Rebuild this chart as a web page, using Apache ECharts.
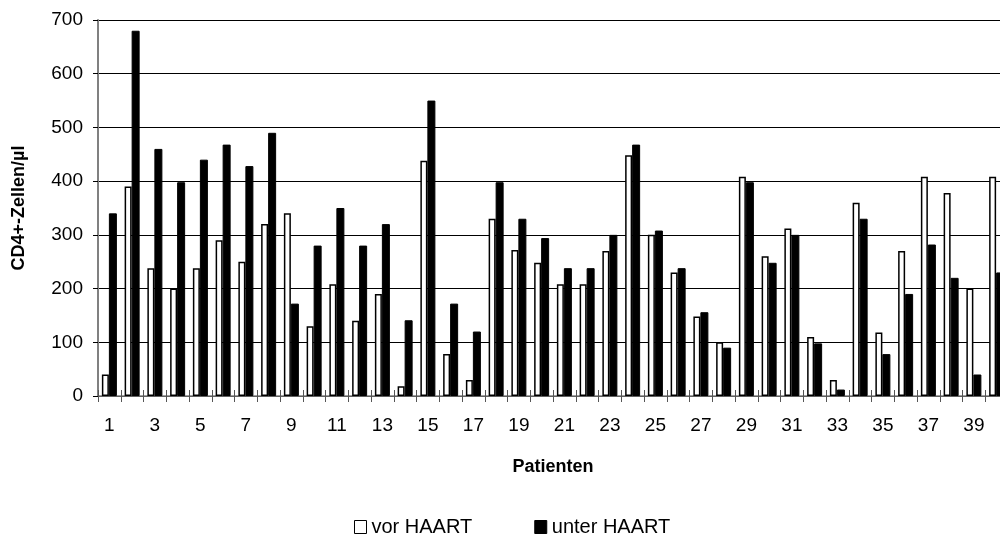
<!DOCTYPE html>
<html>
<head>
<meta charset="utf-8">
<script src="https://cdn.jsdelivr.net/npm/echarts@6/dist/echarts.min.js"></script>
<style>
html, body { margin: 0; padding: 0; width: 1000px; height: 541px; overflow: hidden; background: #fff; }
#chart { width: 1010px; height: 541px; }
</style>
</head>
<body>
<div id="chart"></div>
<script>
// Patient numbers
var categories = ['1','2','3','4','5','6','7','8','9','10','11','12','13','14','15','16','17','18','19','20',
                  '21','22','23','24','25','26','27','28','29','30','31','32','33','34','35','36','37','38','39','40'];
// CD4+ cells/µl before HAART
var vorHAART = [40,390,238,200,238,290,250,320,340,130,208,140,190,18,438,78,30,330,272,248,
                208,208,270,448,300,230,148,100,408,260,312,110,30,360,118,270,408,378,200,408];
// CD4+ cells/µl under HAART
var unterHAART = [340,680,460,398,440,468,428,490,172,280,350,280,320,141,550,172,120,398,330,294,
                  238,238,300,468,308,238,156,90,398,248,300,98,12,330,78,190,282,220,40,230];
var yMin = 0, yMax = 700, yStep = 100;

var font = 'Liberation Sans, Arial, sans-serif';
var chart = echarts.init(document.getElementById('chart'), null, { renderer: 'canvas' });
chart.setOption({
  animation: false,
  backgroundColor: '#fff',
  textStyle: { fontFamily: font, color: '#000' },
  grid: { left: 98, top: 20, width: 910, height: 376, containLabel: false },
  legend: {
    left: 349, top: 512,
    itemWidth: 12, itemHeight: 13, itemGap: 62,
    icon: 'rect',
    textStyle: { fontFamily: font, fontSize: 20, color: '#000' },
    data: [
      { name: 'vor HAART', itemStyle: { color: '#fff', borderColor: '#000', borderWidth: 1 } },
      { name: 'unter HAART', itemStyle: { color: '#000', borderColor: '#000', borderWidth: 1 } }
    ]
  },
  xAxis: [{
    type: 'category',
    data: categories,
    position: 'bottom',
    name: 'Patienten',
    nameLocation: 'middle',
    nameGap: 62,
    nameTextStyle: { fontFamily: font, fontSize: 18, fontWeight: 'bold', color: '#000' },
    axisLine: { show: true, lineStyle: { color: '#808080', width: 1.5 } },
    axisTick: { show: true, interval: 0, length: 6, lineStyle: { color: '#555', width: 1 } },
    axisLabel: { interval: 1, margin: 20, fontFamily: font, fontSize: 19, color: '#000' },
    splitLine: { show: false }
  }, {
    type: 'category',
    data: categories,
    position: 'bottom',
    axisLine: { show: false },
    axisTick: { show: true, inside: true, interval: 0, length: 6, lineStyle: { color: '#555', width: 1 } },
    axisLabel: { show: false },
    splitLine: { show: false }
  }],
  yAxis: {
    type: 'value',
    min: yMin, max: yMax, interval: yStep,
    name: 'CD4+-Zellen/µl',
    nameLocation: 'middle',
    nameGap: 70,
    nameTextStyle: { fontFamily: font, fontSize: 18, fontWeight: 'bold', color: '#000' },
    axisLine: { show: true, lineStyle: { color: '#808080', width: 2 } },
    axisTick: { show: true, length: 5, lineStyle: { color: '#000', width: 1 } },
    axisLabel: { margin: 15, fontFamily: font, fontSize: 19, color: '#000' },
    splitLine: { show: true, lineStyle: { color: '#000', width: 1 } }
  },
  series: [{
    name: 'vor HAART',
    type: 'bar',
    xAxisIndex: 0,
    data: vorHAART,
    barWidth: 7,
    barGap: '0%',
    itemStyle: { color: '#fff', borderColor: '#000', borderWidth: 1.5 }
  }, {
    name: 'unter HAART',
    type: 'bar',
    xAxisIndex: 0,
    data: unterHAART,
    barWidth: 8,
    barGap: '0%',
    itemStyle: { color: '#000', borderColor: '#000', borderWidth: 1 }
  }]
});
</script>
</body>
</html>
